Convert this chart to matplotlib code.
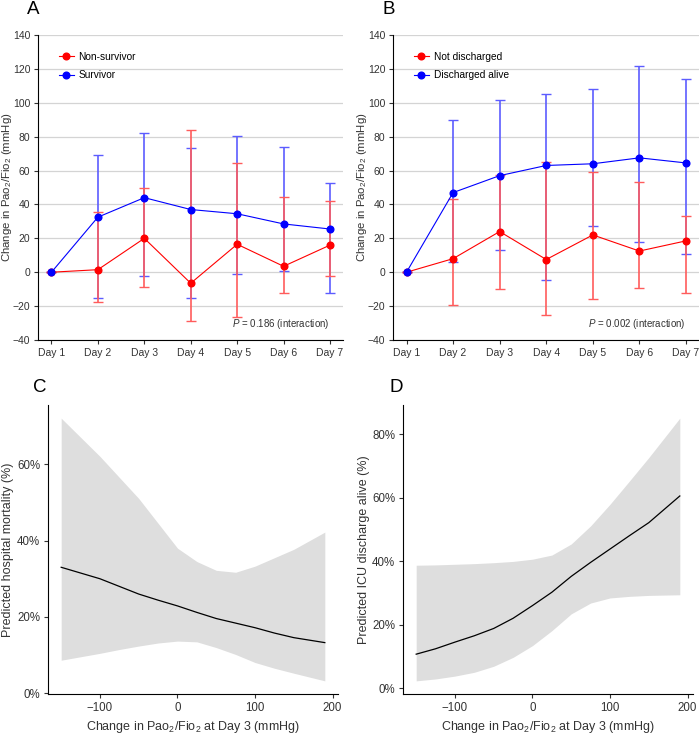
import numpy as np
import matplotlib
matplotlib.use('Agg')
from matplotlib import pyplot as plt
from matplotlib.ticker import PercentFormatter

plt.rcParams['font.family'] = ['Liberation Sans', 'DejaVu Sans']
plt.rcParams['mathtext.fontset'] = 'custom'
plt.rcParams['mathtext.rm'] = 'Liberation Sans'
plt.rcParams['mathtext.it'] = 'Liberation Sans:italic'

days = ['Day 1', 'Day 2', 'Day 3', 'Day 4', 'Day 5', 'Day 6', 'Day 7']

# panel A
nonsurv = [0, 1.5, 20, -6.5, 16.5, 3.5, 16]
nonsurv_lo = [0, -17.5, -9, -28.5, -26.5, -12, -2]
nonsurv_hi = [0, 35.5, 50, 84, 64.5, 44.5, 42]
surv = [0, 32.5, 44, 37, 34.5, 28.5, 25.5]
surv_lo = [0, -15, -2, -15, -1, 1, -12]
surv_hi = [0, 69, 82, 73.5, 80.5, 74, 52.5]

# panel B
notdis = [0, 8, 24, 7.5, 22, 12.5, 18.5]
notdis_lo = [0, -19.5, -10, -25.5, -16, -9.5, -12]
notdis_hi = [0, 43, 57.5, 65, 59, 53, 33]
disch = [0, 47, 57, 63, 64, 67.5, 64.5]
disch_lo = [0, 6, 13, -4.5, 27.5, 18, 10.5]
disch_hi = [0, 90, 101.5, 105, 108, 122, 114]

# panel C / D (model predictions)
delta = [-150, -125, -100, -75, -50, -25, 0, 25, 50, 75, 100, 125, 150, 190]
mort = [0.33, 0.315, 0.30, 0.28, 0.26, 0.244, 0.229, 0.212, 0.196, 0.184, 0.172, 0.158, 0.146, 0.133]
mort_lo = [0.087, 0.096, 0.105, 0.115, 0.124, 0.132, 0.137, 0.135, 0.12, 0.102, 0.081, 0.066, 0.053, 0.033]
mort_hi = [0.72, 0.67, 0.62, 0.565, 0.51, 0.445, 0.38, 0.345, 0.322, 0.317, 0.333, 0.355, 0.377, 0.422]
dis = [0.107, 0.124, 0.145, 0.165, 0.188, 0.22, 0.26, 0.302, 0.352, 0.396, 0.438, 0.48, 0.521, 0.605]
dis_lo = [0.023, 0.029, 0.038, 0.05, 0.069, 0.097, 0.134, 0.181, 0.234, 0.268, 0.284, 0.289, 0.292, 0.294]
dis_hi = [0.387, 0.388, 0.39, 0.392, 0.395, 0.399, 0.406, 0.419, 0.454, 0.511, 0.579, 0.652, 0.726, 0.85]

RED = '#ff0000'
BLUE = '#0000ff'
RED_EB = '#ff5c5c'
BLUE_EB = '#5c5cff'
TXT = '#333333'

fig = plt.figure(figsize=(6.99, 7.35), dpi=100)
W, H = 699, 735


def px_axes(l, t, r, b):
    return fig.add_axes([l / W, 1 - b / H, (r - l) / W, (b - t) / H])


def trend_panel(ax, grp1, g1lo, g1hi, grp2, g2lo, g2hi, labels, ptxt):
    x = np.arange(1, 8)
    ax.errorbar(x, grp2, yerr=[np.array(grp2) - g2lo, np.array(g2hi) - grp2],
                fmt='none', ecolor=BLUE_EB, elinewidth=1.2, capsize=3.6, capthick=1.0, zorder=2)
    ax.errorbar(x, grp1, yerr=[np.array(grp1) - g1lo, np.array(g1hi) - grp1],
                fmt='none', ecolor=RED_EB, elinewidth=1.2, capsize=3.6, capthick=1.0, zorder=2)
    h1, = ax.plot(x, grp1, '-o', color=RED, lw=0.8, ms=4.8, zorder=3, label=labels[0])
    h2, = ax.plot(x, grp2, '-o', color=BLUE, lw=0.8, ms=4.8, zorder=4, label=labels[1])
    ax.set_xlim(0.71, 7.28)
    ax.set_ylim(-40, 140)
    ax.set_yticks(range(-40, 141, 20))
    ax.set_xticks(x)
    ax.set_xticklabels(days)
    ax.grid(axis='y', color='#d4d4d4', lw=0.9)
    ax.set_axisbelow(True)
    for s in ['top', 'right']:
        ax.spines[s].set_visible(False)
    ax.tick_params(labelsize=7.5, colors=TXT, length=3, width=0.8, pad=2.5)
    ax.set_ylabel('Change in Pao$_2$/Fio$_2$ (mmHg)', fontsize=8.2, color=TXT)
    ax.yaxis.set_label_coords(-0.08, 0.5)
    ax.legend(handles=[h1, h2], loc='upper left', bbox_to_anchor=(0.04, 0.975),
              frameon=False, fontsize=7.3, handlelength=1.4, handletextpad=0.5,
              labelspacing=0.85)
    ax.text(0.957, 0.052, ptxt, transform=ax.transAxes, ha='right', va='center',
            fontsize=7, color=TXT)


axA = px_axes(38, 35, 343, 340)
trend_panel(axA, nonsurv, nonsurv_lo, nonsurv_hi, surv, surv_lo, surv_hi,
            ['Non-survivor', 'Survivor'], '$\\it{P}$ = 0.186 (interaction)')
axB = px_axes(393, 35, 699, 340)
trend_panel(axB, notdis, notdis_lo, notdis_hi, disch, disch_lo, disch_hi,
            ['Not discharged', 'Discharged alive'], '$\\it{P}$ = 0.002 (interaction)')


def model_panel(ax, y, lo, hi, ylab, yticks, labx):
    ax.fill_between(delta, lo, hi, color='#dedede', lw=0, zorder=1)
    ax.plot(delta, y, color='black', lw=0.9, zorder=2)
    pad = (max(hi) - min(lo)) * 0.05
    ax.set_ylim(min(lo) - pad, max(hi) + pad)
    ax.set_xlim(-167, 207)
    ax.set_xticks([-100, 0, 100, 200])
    ax.set_yticks(yticks)
    ax.yaxis.set_major_formatter(PercentFormatter(1.0, decimals=0))
    for s in ['top', 'right']:
        ax.spines[s].set_visible(False)
    ax.tick_params(labelsize=8.3, colors=TXT, length=3, width=0.8, pad=2.5)
    ax.set_ylabel(ylab, fontsize=9, color=TXT)
    ax.yaxis.set_label_coords(labx, 0.5)
    ax.set_xlabel('Change in Pao$_2$/Fio$_2$ at Day 3 (mmHg)', fontsize=9, color=TXT)
    ax.xaxis.set_label_coords(0.5, -0.088)


axC = px_axes(48, 405, 338, 694)
model_panel(axC, mort, mort_lo, mort_hi, 'Predicted hospital mortality (%)',
            [0, 0.2, 0.4, 0.6], -0.118)
axD = px_axes(403, 405, 693, 694)
model_panel(axD, dis, dis_lo, dis_hi, 'Predicted ICU discharge alive (%)',
            [0, 0.2, 0.4, 0.6, 0.8], -0.114)

for lab, xx, yy in [('A', 27, 9), ('B', 382, 9), ('C', 33, 388), ('D', 390, 388)]:
    fig.text(xx / W, 1 - yy / H, lab, fontsize=13.5, va='center', ha='left')

fig.savefig('out.png', dpi=100)
